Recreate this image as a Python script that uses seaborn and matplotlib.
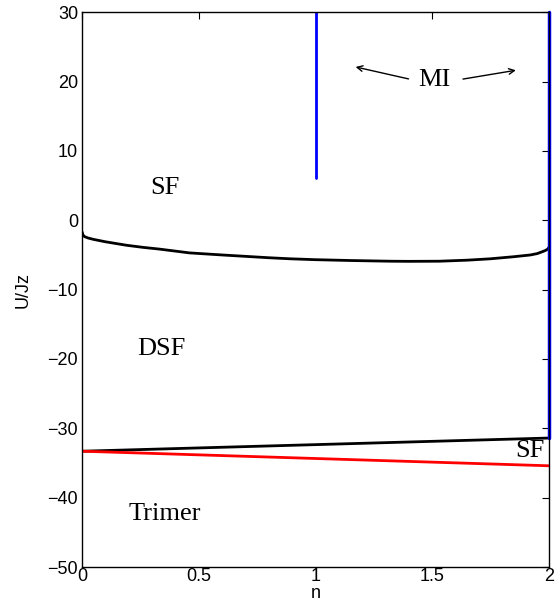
import numpy as np
import pandas as pd
import matplotlib
matplotlib.use("Agg")
import matplotlib.pyplot as plt
import seaborn as sns

# ==========================================
# Data
# ==========================================

# SF / DSF boundary
n_sf = [0.0, 0.003, 0.01, 0.025, 0.048, 0.1, 0.19, 0.26, 0.33, 0.46, 0.6,
        0.7, 0.8, 0.89, 1.0, 1.15, 1.25, 1.32, 1.4, 1.53, 1.65, 1.75, 1.85,
        1.92, 1.95, 1.97, 1.985, 1.995, 2.0]
u_sf = [-1.7, -2.1, -2.35, -2.55, -2.75, -3.1, -3.6, -3.9, -4.15, -4.7, -5.0,
        -5.2, -5.4, -5.55, -5.68, -5.8, -5.86, -5.9, -5.92, -5.9, -5.75,
        -5.55, -5.25, -5.0, -4.8, -4.55, -4.35, -4.15, -3.9]

# DSF / SF boundary (black) and SF / Trimer boundary (red)
n_low = [0.0, 2.0]
u_black = [-33.3, -31.4]
u_red = [-33.3, -35.4]

# MI lines (blue)
n_mi1 = [1.0, 1.0]
u_mi1 = [6.1, 30.0]
n_mi2 = [2.0, 2.0]
u_mi2 = [-31.4, 30.0]

# phase labels
labels = ["SF", "DSF", "Trimer", "SF"]
label_n = [0.355, 0.34, 0.355, 1.92]
label_u = [4.6, -18.5, -42.4, -33.3]

# ==========================================
# Plot
# ==========================================

sns.set_style("white")
plt.rcParams['font.family'] = ['Liberation Sans', 'DejaVu Sans']
plt.rcParams['text.color'] = 'black'
plt.rcParams['axes.labelcolor'] = 'black'

fig = plt.figure(figsize=(5.59, 6.13), dpi=100)
ax = fig.add_axes([0.147, 0.075, 0.835, 0.905])

sns.lineplot(x=n_sf, y=u_sf, color="black", linewidth=2, ax=ax,
             sort=False, estimator=None)
sns.lineplot(x=n_low, y=u_black, color="black", linewidth=2, ax=ax)
sns.lineplot(x=n_low, y=u_red, color="red", linewidth=2, ax=ax)
sns.lineplot(x=n_mi1, y=u_mi1, color="blue", linewidth=2, ax=ax,
             sort=False, estimator=None)
sns.lineplot(x=n_mi2, y=u_mi2, color="blue", linewidth=2.5, ax=ax,
             sort=False, estimator=None, clip_on=False)

for txt, xx, yy in zip(labels, label_n, label_u):
    ax.text(xx, yy, txt, ha="center", va="center", fontsize=19,
            family="Liberation Serif", color="black")

ax.text(1.51, 20.3, "MI", ha="center", va="center", fontsize=19,
        family="Liberation Serif", color="black")
ax.annotate("", xy=(1.16, 22.2), xytext=(1.41, 20.3),
            arrowprops=dict(arrowstyle="->", color="black", lw=1))
ax.annotate("", xy=(1.87, 21.7), xytext=(1.62, 20.3),
            arrowprops=dict(arrowstyle="->", color="black", lw=1))

ax.set_xlim(0, 2)
ax.set_ylim(-50, 30)
ax.set_xticks([0, 0.5, 1, 1.5, 2])
ax.set_xticklabels(["0", "0.5", "1", "1.5", "2"])
ax.set_yticks(np.arange(-50, 31, 10))
ax.set_yticklabels(["\u221250", "\u221240", "\u221230", "\u221220", "\u221210",
                    "0", "10", "20", "30"])
ax.tick_params(direction="in", length=5, width=0.8, labelsize=13,
               top=True, right=True, colors="black", pad=3)
ax.tick_params(axis="x", pad=1)
for s in ax.spines.values():
    s.set_color("black")
    s.set_linewidth(1)

ax.set_xlabel("n", fontsize=13, labelpad=0)
ax.set_ylabel("U/Jz", fontsize=13, labelpad=11)

plt.savefig("out.png", dpi=100)
